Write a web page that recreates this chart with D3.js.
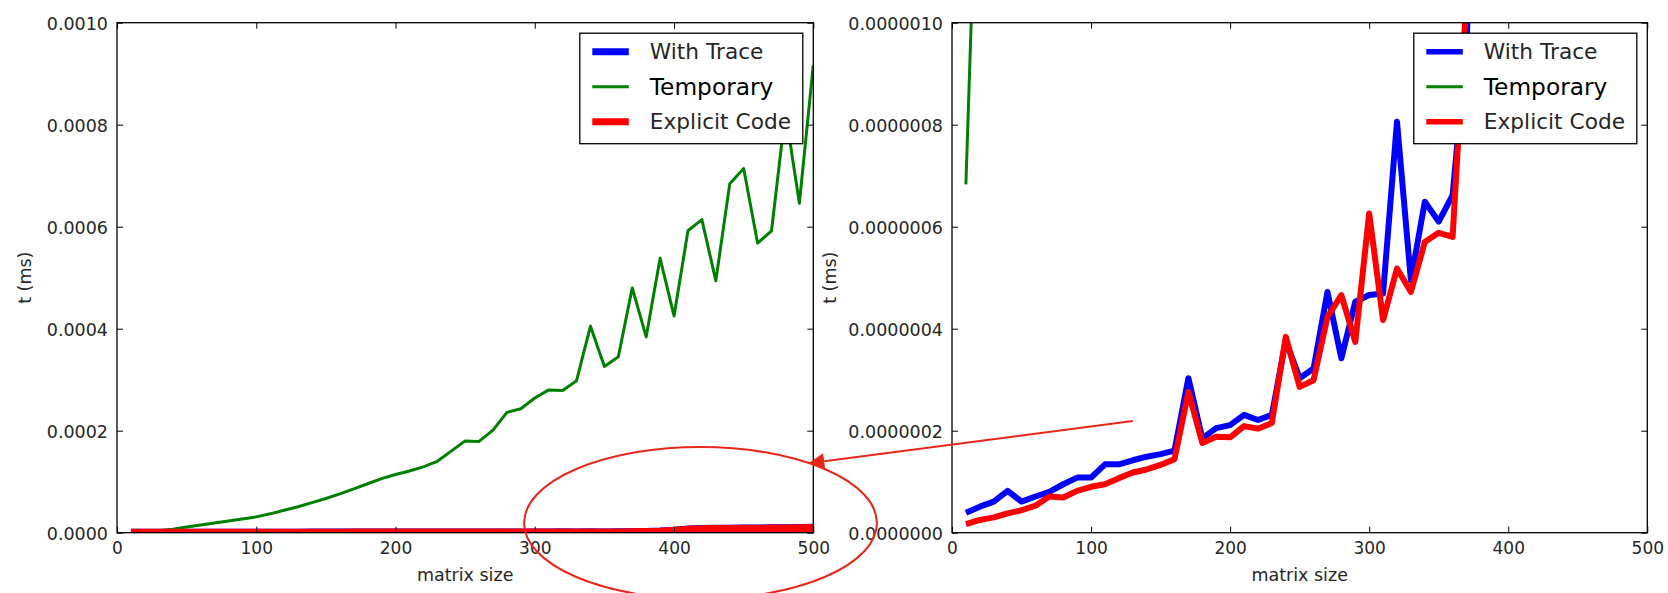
<!DOCTYPE html>
<html>
<head>
<meta charset="utf-8">
<script src="https://cdn.jsdelivr.net/npm/d3@7"></script>
<style>
  body { margin: 0; background: #fff; }
  svg { display: block; }
  text { font-family: 'DejaVu Sans', sans-serif; fill: #262626; }
</style>
</head>
<body>
<svg id="chart"></svg>
<script>
const sizes = [10, 20, 30, 40, 50, 60, 70, 80, 90, 100,
  110, 120, 130, 140, 150, 160, 170, 180, 190, 200,
  210, 220, 230, 240, 250, 260, 270, 280, 290, 300,
  310, 320, 330, 340, 350, 360, 370, 380, 390, 400,
  410, 420, 430, 440, 450, 460, 470, 480, 490, 500]

const withTrace = [3.9e-8, 5.1e-8, 6.1e-8, 8.2e-8, 6.1e-8, 7.1e-8, 8.0e-8, 9.5e-8, 1.08e-7, 1.08e-7,
  1.34e-7, 1.34e-7, 1.42e-7, 1.49e-7, 1.54e-7, 1.61e-7, 3.03e-7, 1.85e-7, 2.05e-7, 2.11e-7,
  2.31e-7, 2.21e-7, 2.31e-7, 3.77e-7, 3.03e-7, 3.22e-7, 4.72e-7, 3.42e-7, 4.53e-7, 4.66e-7,
  4.69e-7, 8.06e-7, 4.95e-7, 6.49e-7, 6.10e-7, 6.62e-7, 9.6e-7, 1.6e-6, 2.2e-6, 4.0e-6,
  6.5e-6, 7.5e-6, 7.6e-6, 7.8e-6, 8.0e-6, 8.2e-6, 8.5e-6, 8.8e-6, 9.0e-6, 9.5e-6]

const temporary = [6.83e-7, 1.52e-6, 4e-6, 7e-6, 1.1e-5, 1.5e-5, 1.9e-5, 2.3e-5, 2.7e-5, 3.1e-5,
  3.7e-5, 4.4e-5, 5.1e-5, 5.9e-5, 6.7e-5, 7.6e-5, 8.6e-5, 9.6e-5, 1.06e-4, 1.14e-4,
  1.21e-4, 1.29e-4, 1.40e-4, 1.60e-4, 1.80e-4, 1.79e-4, 2.01e-4, 2.36e-4, 2.43e-4, 2.64e-4,
  2.80e-4, 2.79e-4, 2.98e-4, 4.05e-4, 3.26e-4, 3.45e-4, 4.80e-4, 3.84e-4, 5.38e-4, 4.25e-4,
  5.92e-4, 6.14e-4, 4.94e-4, 6.84e-4, 7.14e-4, 5.68e-4, 5.92e-4, 8.25e-4, 6.46e-4, 9.17e-4]

const explicitCode = [1.7e-8, 2.5e-8, 3.0e-8, 3.8e-8, 4.4e-8, 5.3e-8, 7.1e-8, 6.9e-8, 8.2e-8, 9.0e-8,
  9.5e-8, 1.07e-7, 1.18e-7, 1.24e-7, 1.33e-7, 1.44e-7, 2.76e-7, 1.76e-7, 1.88e-7, 1.87e-7,
  2.09e-7, 2.04e-7, 2.15e-7, 3.84e-7, 2.86e-7, 2.99e-7, 4.23e-7, 4.66e-7, 3.74e-7, 6.26e-7,
  4.17e-7, 5.18e-7, 4.72e-7, 5.70e-7, 5.88e-7, 5.80e-7, 1.05e-6, 1.4e-6, 2.0e-6, 3.6e-6,
  6.0e-6, 7.0e-6, 7.2e-6, 7.4e-6, 7.6e-6, 7.8e-6, 8.0e-6, 8.3e-6, 8.5e-6, 9.0e-6]

const seriesNames = ['With Trace', 'Temporary', 'Explicit Code']
const xTicks = [0, 100, 200, 300, 400, 500]
const leftYTicks = [0, 0.0002, 0.0004, 0.0006, 0.0008, 0.001]
const rightYTicks = [0, 2e-7, 4e-7, 6e-7, 8e-7, 1e-6]
const xLabel = 'matrix size'
const yLabel = 't (ms)'

const width = 1668
const height = 593
const seriesColors = ['#0000ff', '#008000', '#ff0000']
const seriesValues = [withTrace, temporary, explicitCode]

const svg = d3.select('#chart').attr('width', width).attr('height', height)

const panels = [
  { id: 'left', left: 117, right: 813.3, top: 22.7, bottom: 532.7, yTicks: leftYTicks,
    fmt: d3.format('.4f'), lineW: [8, 3, 8], legendW: [7, 3, 7], yLabelX: 30.5 },
  { id: 'right', left: 952, right: 1647.3, top: 22.7, bottom: 532.7, yTicks: rightYTicks,
    fmt: d3.format('.7f'), lineW: [6, 3, 6], legendW: [5.5, 3, 5.5], yLabelX: 835.5 }
]

const scales = {}

panels.forEach(p => {
  const x = d3.scaleLinear().domain([0, 500]).range([p.left, p.right])
  const y = d3.scaleLinear().domain([0, d3.max(p.yTicks)]).range([p.bottom, p.top])
  scales[p.id] = { x, y }
  const g = svg.append('g')

  g.append('clipPath').attr('id', 'clip-' + p.id)
    .append('rect')
    .attr('x', p.left).attr('y', p.top)
    .attr('width', p.right - p.left).attr('height', p.bottom - p.top)

  const line = d3.line().x(d => x(d[0])).y(d => y(d[1]))

  // series
  seriesValues.forEach((vals, i) => {
    g.append('path')
      .datum(sizes.map((s, j) => [s, vals[j]]))
      .attr('clip-path', `url(#clip-${p.id})`)
      .attr('d', line)
      .attr('fill', 'none')
      .attr('stroke', seriesColors[i])
      .attr('stroke-width', p.lineW[i])
      .attr('stroke-linejoin', 'round')
  })

  // frame
  g.append('rect')
    .attr('x', p.left).attr('y', p.top)
    .attr('width', p.right - p.left).attr('height', p.bottom - p.top)
    .attr('fill', 'none').attr('stroke', '#000').attr('stroke-width', 1.3)

  // axes, ticks inside on all sides
  const tick = 6
  const xa = g.append('g').attr('transform', `translate(0,${p.bottom})`)
    .call(d3.axisBottom(x).tickValues(xTicks).tickSize(-tick).tickPadding(9).tickFormat(d3.format('d')))
  const xt = g.append('g').attr('transform', `translate(0,${p.top})`)
    .call(d3.axisTop(x).tickValues(xTicks).tickSize(-tick).tickFormat(''))
  const ya = g.append('g').attr('transform', `translate(${p.left},0)`)
    .call(d3.axisLeft(y).tickValues(p.yTicks).tickSize(-tick).tickPadding(9).tickFormat(p.fmt))
  const yr = g.append('g').attr('transform', `translate(${p.right},0)`)
    .call(d3.axisRight(y).tickValues(p.yTicks).tickSize(-tick).tickFormat(''))
  ;[xa, xt, ya, yr].forEach(a => {
    a.select('.domain').remove()
    a.selectAll('line').attr('stroke', '#000').attr('stroke-width', 1)
  })
  xa.selectAll('text').attr('font-size', 17).attr('fill', '#262626')
    .attr('font-family', 'DejaVu Sans').attr('dy', null).attr('y', 21.5)
  ya.selectAll('text').attr('font-size', 17.5).attr('fill', '#262626')
    .attr('font-family', 'DejaVu Sans').attr('dy', '0.36em')

  // axis labels
  g.append('text')
    .attr('x', (p.left + p.right) / 2).attr('y', 581)
    .attr('text-anchor', 'middle').attr('font-size', 17.5)
    .text(xLabel)
  g.append('text')
    .attr('transform', `translate(${p.yLabelX},${(p.top + p.bottom) / 2}) rotate(-90)`)
    .attr('text-anchor', 'middle').attr('font-size', 17.5)
    .text(yLabel)

  // legend
  const lw = 223
  const lh = 110.5
  const lx = p.right - 10.5 - lw
  const ly = p.top + 10.5
  const leg = g.append('g').attr('transform', `translate(${lx},${ly})`)
  leg.append('rect').attr('width', lw).attr('height', lh)
    .attr('fill', '#fff').attr('stroke', '#000').attr('stroke-width', 1.3)
  seriesNames.forEach((name, i) => {
    const ry = 18.5 + i * 35
    leg.append('line')
      .attr('x1', 12.5).attr('x2', 49).attr('y1', ry).attr('y2', ry)
      .attr('stroke', seriesColors[i]).attr('stroke-width', p.legendW[i])
    const t = leg.append('text').attr('x', 70).attr('y', ry).attr('dy', '0.36em').text(name)
    if (name === 'Temporary') {
      t.attr('font-family', 'Liberation Sans').attr('font-size', 23.3).style('fill', '#000')
    } else {
      t.attr('font-size', 21.7)
    }
  })
})

// annotation: ellipse around the low lines in the left panel, arrow from the right panel
const L = scales.left
const R = scales.right
const annoColor = '#e8271a'
const ellipseCenter = [419, 1.9e-5]
const ellipseRadius = [126.7, 1.49e-4]
svg.append('ellipse')
  .attr('cx', L.x(ellipseCenter[0])).attr('cy', L.y(ellipseCenter[1]))
  .attr('rx', L.x(ellipseRadius[0]) - L.x(0)).attr('ry', L.y(0) - L.y(ellipseRadius[1]))
  .attr('fill', 'none').attr('stroke', annoColor).attr('stroke-width', 2)

const tail = [R.x(130), R.y(2.19e-7)]
const tip = [L.x(496.4), L.y(1.36e-4)]
const dx = tail[0] - tip[0]
const dy = tail[1] - tip[1]
const len = Math.hypot(dx, dy)
const ux = dx / len
const uy = dy / len
const headLen = 16
const headHalf = 8
const base = [tip[0] + ux * headLen, tip[1] + uy * headLen]
svg.append('line')
  .attr('x1', tail[0]).attr('y1', tail[1]).attr('x2', base[0]).attr('y2', base[1])
  .attr('stroke', annoColor).attr('stroke-width', 2)
svg.append('polygon')
  .attr('points', [
    tip,
    [base[0] - uy * headHalf, base[1] + ux * headHalf],
    [base[0] + uy * headHalf, base[1] - ux * headHalf]
  ].map(pt => pt.join(',')).join(' '))
  .attr('fill', annoColor)
</script>
</body>
</html>
